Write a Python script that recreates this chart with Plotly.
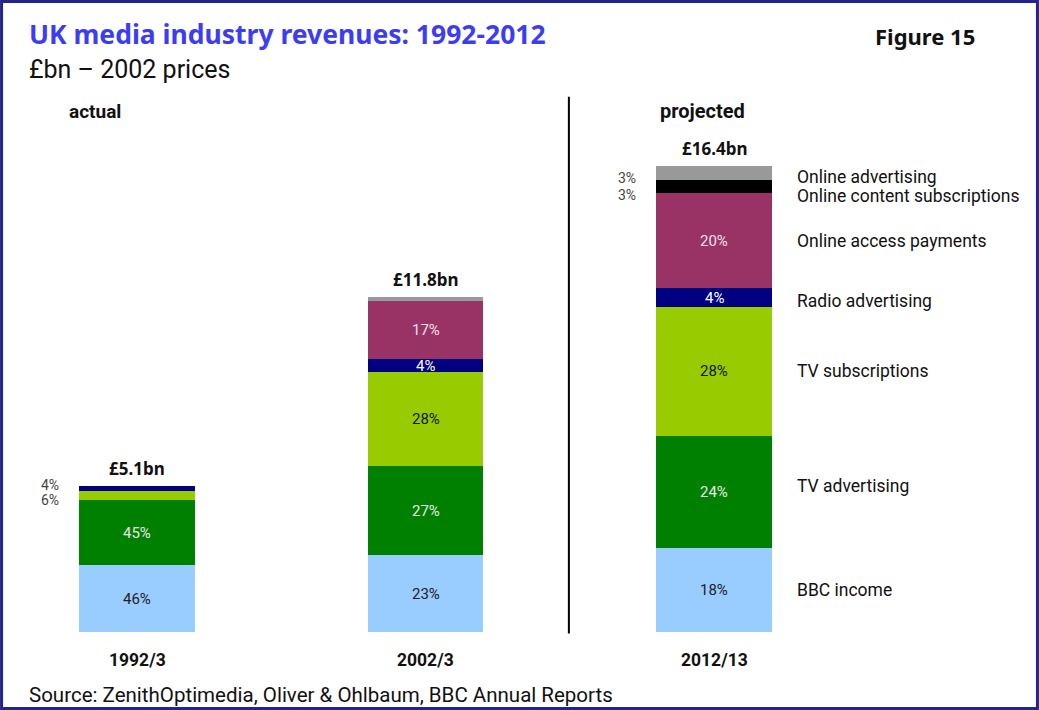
import plotly.graph_objects as go

# data (GBP bn, 2002 prices)
years = ["1992/3", "2002/3", "2012/13"]
totals = ["£5.1bn", "£11.8bn", "£16.4bn"]
series = ["BBC income", "TV advertising", "TV subscriptions", "Radio advertising",
          "Online access payments", "Online content subscriptions", "Online advertising"]
bbc_income = [2.35, 2.70, 2.95]
tv_advertising = [2.30, 3.15, 3.95]
tv_subscriptions = [0.30, 3.30, 4.55]
radio_advertising = [0.20, 0.45, 0.65]
online_access = [0.00, 2.05, 3.35]
online_content = [0.00, 0.00, 0.45]
online_advertising = [0.00, 0.15, 0.50]
share_labels = [
    ["46%", "23%", "18%"],
    ["45%", "27%", "24%"],
    ["6%", "28%", "28%"],
    ["4%", "4%", "4%"],
    ["", "17%", "20%"],
    ["", "", "3%"],
    ["", "", "3%"],
]

values = [bbc_income, tv_advertising, tv_subscriptions, radio_advertising,
          online_access, online_content, online_advertising]
colors = ["#99ccff", "#008000", "#99cc00", "#000080", "#993366", "#000000", "#999999"]
label_colors = ["#222222", "#e8e8e8", "#111111", "#ffffff", "#f2e0ea", "#ffffff", "#ffffff"]

W, H = 1039, 710


def px(x):
    return x / W


def py(y):
    return 1 - y / H


fig = go.Figure()
for name, vals, col in zip(series, values, colors):
    fig.add_trace(go.Bar(x=[0, 1, 2], y=vals, name=name, marker_color=col,
                         marker_line_width=0, width=0.402, hoverinfo="y+name"))

ann = []
pct_font = dict(family="Roboto", size=15)
for i in range(3):
    base = 0
    for s, vals in enumerate(values):
        v = vals[i]
        mid = base + v / 2
        lab = share_labels[s][i]
        if lab:
            # tiny slices are labelled to the left of the bar
            outside = (i == 0 and s in (2, 3)) or (i == 2 and s in (5, 6))
            if outside:
                shift = {(0, 3): 4, (0, 2): -4, (2, 6): -5, (2, 5): -8}[(i, s)]
                ann.append(dict(x=i - 0.265, y=mid, text=lab, showarrow=False, xanchor="right",
                                yshift=shift, font=dict(pct_font, size=14, color="#444444")))
            else:
                ann.append(dict(x=i, y=mid, text=lab, showarrow=False,
                                font=dict(pct_font, color=label_colors[s])))
        if i == 2:
            shift = {1: 6, 3: -3, 5: -9, 6: -4}.get(s, 0)
            ann.append(dict(x=2.28, y=mid, text=series[s], showarrow=False, xanchor="left",
                            yshift=shift, font=dict(family="Roboto", size=17.5, color="#111111")))
        base += v
    ann.append(dict(x=i, y=base, text="<b>%s</b>" % totals[i], showarrow=False, yanchor="bottom",
                    yshift=4, font=dict(family="Noto Sans", size=17, color="#111111")))
    ann.append(dict(x=i, y=py(660), yref="paper", yanchor="middle", text="<b>%s</b>" % years[i],
                    showarrow=False, font=dict(family="Roboto", size=17.5, color="#111111")))

ann += [
    dict(x=px(27), y=py(34), text="<b>UK media industry revenues: 1992-2012</b>",
         font=dict(family="Noto Sans", size=26.5, color="#3c3cf5")),
    dict(x=px(27), y=py(70), text="£bn – 2002 prices",
         font=dict(family="Roboto", size=25, color="#111111")),
    dict(x=px(873), y=py(36), text="<b>Figure 15</b>",
         font=dict(family="Noto Sans", size=22, color="#111111")),
    dict(x=px(67), y=py(111), text="<b>actual</b>",
         font=dict(family="Roboto", size=19, color="#111111")),
    dict(x=px(658), y=py(111), text="<b>projected</b>",
         font=dict(family="Roboto", size=20, color="#111111")),
    dict(x=px(27), y=py(695), text="Source: ZenithOptimedia, Oliver & Ohlbaum, BBC Annual Reports",
         font=dict(family="Roboto", size=20.5, color="#111111")),
]
for a in ann[-6:]:
    a.update(xref="paper", yref="paper", xanchor="left", yanchor="middle", showarrow=False)

fig.update_layout(
    barmode="stack",
    width=W, height=H,
    margin=dict(l=0, r=0, t=0, b=0),
    paper_bgcolor="white", plot_bgcolor="white",
    showlegend=False,
    xaxis=dict(range=[-137 / 288.5, (W - 137) / 288.5], visible=False, fixedrange=True),
    yaxis=dict(range=[-(H - 632) / 28.4, 632 / 28.4], visible=False, fixedrange=True),
    annotations=ann,
    shapes=[
        dict(type="line", xref="x", yref="y", x0=1.497, x1=1.497, y0=-0.05, y1=18.85,
             line=dict(color="#000000", width=2)),
        dict(type="rect", xref="paper", yref="paper", x0=0.0015, x1=0.9985, y0=0.002, y1=0.998,
             line=dict(color="#23238c", width=3)),
    ],
)

# page body has a default margin; drop it so the figure fills the window
fig.write_html("out.html", config={"displayModeBar": False},
               post_script="document.body.style.margin='0';document.body.style.overflow='hidden';")
